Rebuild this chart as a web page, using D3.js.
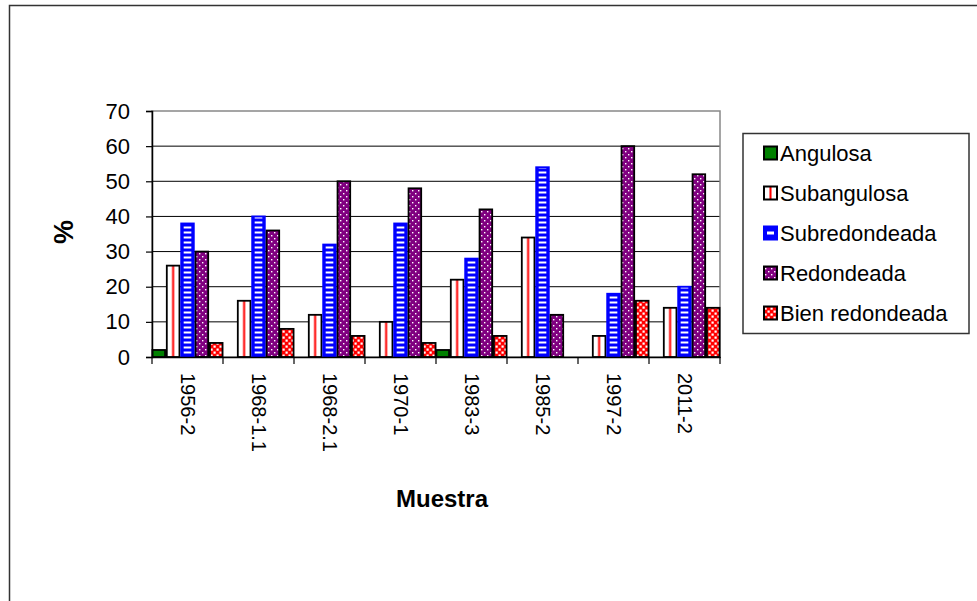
<html>
<head>
<script src="https://d3js.org/d3.v7.min.js"></script>
<style>
  body { margin: 0; background: #fff; }
  text { font-family: "Liberation Sans", Arial, sans-serif; }
</style>
</head>
<body>
<svg id="svg" width="977" height="601"></svg>
<script>
var categories = ["1956-2", "1968-1.1", "1968-2.1", "1970-1", "1983-3", "1985-2", "1997-2", "2011-2"];
var seriesNames = ["Angulosa", "Subangulosa", "Subredondeada", "Redondeada", "Bien redondeada"];
var angulosa = [2, 0, 0, 0, 2, 0, 0, 0];
var subangulosa = [26, 16, 12, 10, 22, 34, 6, 14];
var subredondeada = [38, 40, 32, 38, 28, 54, 18, 20];
var redondeada = [30, 36, 50, 48, 42, 12, 60, 52];
var bienRedondeada = [4, 8, 6, 4, 6, 0, 16, 14];
var yTicks = [0, 10, 20, 30, 40, 50, 60, 70];

var seriesValues = [angulosa, subangulosa, subredondeada, redondeada, bienRedondeada];

var svg = d3.select("svg");
var plotLeft = 152, plotRight = 720, plotTop = 111, plotBottom = 357;

// patterns
var defs = svg.append("defs");
var pSub = defs.append("pattern").attr("id", "pSub")
    .attr("patternUnits", "objectBoundingBox").attr("patternContentUnits", "objectBoundingBox")
    .attr("width", 1).attr("height", 1);
pSub.append("rect").attr("width", 1).attr("height", 1).attr("fill", "#fff");
pSub.append("rect").attr("x", 0.42).attr("width", 0.16).attr("height", 1).attr("fill", "#ff0000");

var pDash = defs.append("pattern").attr("id", "pDash")
    .attr("patternUnits", "userSpaceOnUse").attr("width", 10).attr("height", 5);
pDash.append("rect").attr("y", 1.5).attr("width", 10).attr("height", 2).attr("fill", "#fff");

var pDot = defs.append("pattern").attr("id", "pDot")
    .attr("patternUnits", "userSpaceOnUse").attr("width", 6).attr("height", 6);
pDot.append("rect").attr("width", 6).attr("height", 6).attr("fill", "#800080");
pDot.append("rect").attr("x", 1).attr("y", 1).attr("width", 1.4).attr("height", 1.4).attr("fill", "#fff");
pDot.append("rect").attr("x", 4).attr("y", 4).attr("width", 1.4).attr("height", 1.4).attr("fill", "#fff");

var pCheck = defs.append("pattern").attr("id", "pCheck")
    .attr("patternUnits", "userSpaceOnUse").attr("width", 6).attr("height", 6);
pCheck.append("rect").attr("width", 6).attr("height", 6).attr("fill", "#ff0000");
pCheck.append("rect").attr("x", 0.5).attr("y", 0.5).attr("width", 2.2).attr("height", 2.2).attr("fill", "#fff");
pCheck.append("rect").attr("x", 3.5).attr("y", 3.5).attr("width", 2.2).attr("height", 2.2).attr("fill", "#fff");

var styles = [
    {fill: "#008000", stroke: "#000"},
    {fill: "url(#pSub)", stroke: "#000"},
    {fill: "#0000ff", stroke: "#0000ff", inner: "url(#pDash)"},
    {fill: "url(#pDot)", stroke: "#000"},
    {fill: "url(#pCheck)", stroke: "#000"}
];

// outer frame
svg.append("rect").attr("x", 9.5).attr("y", 5.5).attr("width", 1000).attr("height", 1000)
    .attr("fill", "none").attr("stroke", "#333").attr("stroke-width", 1.5);

var x0 = d3.scaleBand().domain(categories).range([plotLeft, plotRight]).padding(0);
var x1 = d3.scaleBand().domain(seriesNames).range([0, x0.bandwidth()]).paddingInner(0.12).paddingOuter(0.03);
var y = d3.scaleLinear().domain([0, 70]).range([plotBottom, plotTop]);

// gridlines
svg.append("g").selectAll("line").data(yTicks.filter(function(d){ return d > 0 && d < 70; }))
    .enter().append("line")
    .attr("x1", plotLeft).attr("x2", plotRight)
    .attr("y1", function(d){ return y(d); }).attr("y2", function(d){ return y(d); })
    .attr("stroke", "#000").attr("stroke-width", 1);

// plot border
svg.append("rect").attr("x", plotLeft).attr("y", plotTop).attr("width", plotRight - plotLeft).attr("height", plotBottom - plotTop)
    .attr("fill", "none").attr("stroke", "#888").attr("stroke-width", 1.5);

// bars
var data = [];
categories.forEach(function(c, i){
    seriesNames.forEach(function(s, j){
        if (seriesValues[j][i] > 0) data.push({cat: c, s: s, j: j, v: seriesValues[j][i]});
    });
});
var bars = svg.append("g");
bars.selectAll("rect.bar").data(data).enter().append("rect").attr("class", "bar")
    .attr("x", function(d){ return x0(d.cat) + x1(d.s); })
    .attr("y", function(d){ return y(d.v); })
    .attr("width", x1.bandwidth())
    .attr("height", function(d){ return y(0) - y(d.v); })
    .attr("fill", function(d){ return styles[d.j].fill; })
    .attr("stroke", function(d){ return styles[d.j].stroke; })
    .attr("stroke-width", 1.8);
bars.selectAll("rect.inner").data(data.filter(function(d){ return styles[d.j].inner; })).enter()
    .append("rect").attr("class", "inner")
    .attr("x", function(d){ return x0(d.cat) + x1(d.s) + 2.5; })
    .attr("y", function(d){ return y(d.v) + 1; })
    .attr("width", x1.bandwidth() - 5)
    .attr("height", function(d){ return Math.max(0, y(0) - y(d.v) - 2); })
    .attr("fill", function(d){ return styles[d.j].inner; });

// y axis
var yAxis = svg.append("g").attr("transform", "translate(" + plotLeft + ",0)")
    .call(d3.axisLeft(y).tickValues(yTicks).tickSize(6).tickPadding(16));
yAxis.select(".domain").attr("stroke", "#000").attr("stroke-width", 1.5);
yAxis.selectAll(".tick line").attr("stroke", "#000").attr("stroke-width", 1.2);
yAxis.selectAll(".tick text").attr("font-size", "22px").attr("fill", "#000")
    .attr("font-family", "Liberation Sans, Arial, sans-serif");

// x axis
var xAxis = svg.append("g").attr("transform", "translate(0," + plotBottom + ")")
    .call(d3.axisBottom(x0).tickSize(0).tickPadding(0));
xAxis.select(".domain").attr("stroke", "#000").attr("stroke-width", 1.5);
xAxis.selectAll(".tick text").attr("font-size", "20px").attr("fill", "#000")
    .attr("font-family", "Liberation Sans, Arial, sans-serif")
    .attr("text-anchor", "start")
    .attr("transform", "translate(0,16) rotate(90)")
    .attr("x", 0).attr("y", 0).attr("dy", "0.35em");
svg.append("g").selectAll("line").data(categories.concat(["end"])).enter().append("line")
    .attr("x1", function(d){ return d === "end" ? plotRight : x0(d); })
    .attr("x2", function(d){ return d === "end" ? plotRight : x0(d); })
    .attr("y1", plotBottom).attr("y2", plotBottom + 7)
    .attr("stroke", "#000").attr("stroke-width", 1.2);

// axis titles
svg.append("text").attr("transform", "translate(73,232) rotate(-90)")
    .attr("text-anchor", "middle").attr("font-size", "27px").attr("font-weight", "bold")
    .text("%");
svg.append("text").attr("x", (plotLeft + plotRight) / 2 + 6).attr("y", 507)
    .attr("text-anchor", "middle").attr("font-size", "24px").attr("font-weight", "bold")
    .text("Muestra");

// legend
var legend = svg.append("g");
legend.append("rect").attr("x", 743).attr("y", 133.5).attr("width", 226).attr("height", 200)
    .attr("fill", "#fff").attr("stroke", "#333").attr("stroke-width", 1.5);
var items = legend.selectAll("g.item").data(seriesNames).enter().append("g").attr("class", "item")
    .attr("transform", function(d, i){ return "translate(764," + (153 + i * 40) + ")"; });
items.append("rect").attr("x", 0).attr("y", -6.5).attr("width", 13).attr("height", 13)
    .attr("fill", function(d, i){ return styles[i].fill; })
    .attr("stroke", function(d, i){ return styles[i].stroke; })
    .attr("stroke-width", 2);
items.filter(function(d, i){ return styles[i].inner; }).append("rect")
    .attr("x", 3).attr("y", -1.5).attr("width", 7).attr("height", 3).attr("fill", "#fff");
items.append("text").attr("x", 16).attr("y", 0).attr("dy", "0.36em")
    .attr("font-size", "22px").text(function(d){ return d; });
</script>
</body>
</html>
